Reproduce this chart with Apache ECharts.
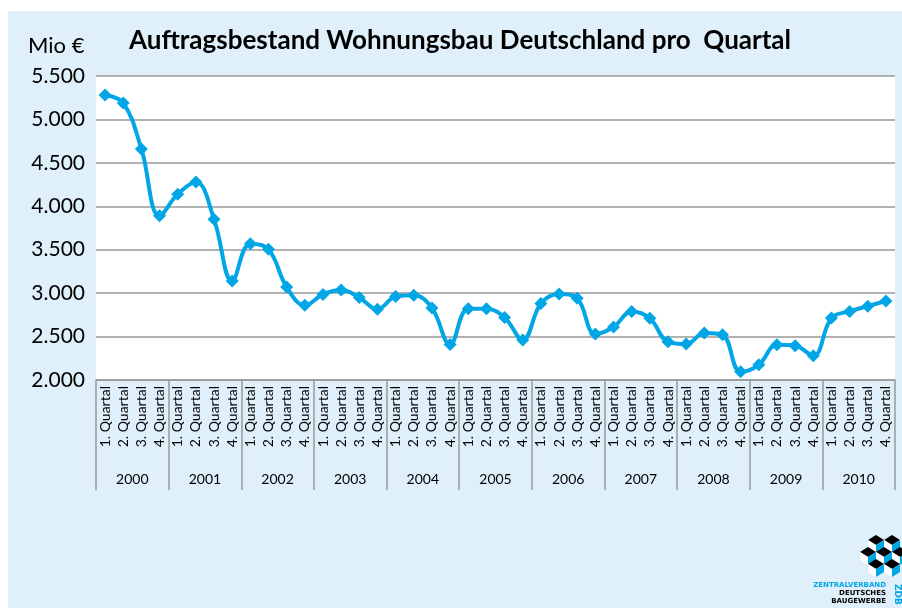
<!DOCTYPE html>
<html>
<head>
<meta charset="utf-8">
<script src="https://cdn.jsdelivr.net/npm/echarts@6/dist/echarts.min.js"></script>
<style>
  html, body { margin: 0; padding: 0; background: #fff; }
  #chart { width: 902px; height: 608px; }
</style>
</head>
<body>
<div id="chart"></div>
<script>
var myChart = echarts.init(document.getElementById('chart'));

// Jahre und Quartale
var years = ['2000','2001','2002','2003','2004','2005','2006','2007','2008','2009','2010'];
var quarterNames = ['1. Quartal','2. Quartal','3. Quartal','4. Quartal'];

// Auftragsbestand in Mio €, je Quartal
var values = [
  5280, 5190, 4660, 3890,   // 2000
  4140, 4280, 3850, 3140,   // 2001
  3570, 3505, 3070, 2860,   // 2002
  2985, 3035, 2950, 2815,   // 2003
  2960, 2975, 2830, 2410,   // 2004
  2820, 2820, 2720, 2460,   // 2005
  2880, 2990, 2940, 2530,   // 2006
  2610, 2790, 2710, 2440,   // 2007
  2415, 2540, 2520, 2095,   // 2008
  2175, 2405, 2395, 2280,   // 2009
  2715, 2790, 2850, 2910    // 2010
];

var yTicks = { min: 2000, max: 5500, step: 500 };

// Kategorien: 4 Quartale je Jahr
var quarters = [];
years.forEach(function () {
  quarterNames.forEach(function (q) { quarters.push(q); });
});

function fmt(v) {
  return String(v).replace(/\B(?=(\d{3})+(?!\d))/g, '.');
}

// ZDB Logo (Würfel)
function cube(cx, cy) {
  var w = 8, h = 5, d = 8;
  return [
    { type: 'polygon', shape: { points: [[cx, cy - h], [cx + w, cy], [cx, cy + h], [cx - w, cy]] }, style: { fill: '#000' } },
    { type: 'polygon', shape: { points: [[cx - w, cy], [cx, cy + h], [cx, cy + h + d], [cx - w, cy + d]] }, style: { fill: '#fff' } },
    { type: 'polygon', shape: { points: [[cx + w, cy], [cx, cy + h], [cx, cy + h + d], [cx + w, cy + d]] }, style: { fill: '#00a6e6' } }
  ];
}
var logo = [];
[[876, 540], [892, 540], [868, 552], [884, 552], [900, 552], [876, 564], [892, 564]].forEach(function (p) {
  logo = logo.concat(cube(p[0], p[1]));
});

var option = {
  backgroundColor: '#fff',
  animation: false,
  graphic: [
    { type: 'rect', z: -10, shape: { x: 8, y: 11, width: 894, height: 597 }, style: { fill: '#dff0fa' } },
    { type: 'text', left: 28, top: 35, style: { text: 'Mio €', font: '22px Lato', fill: '#000' } },
    { type: 'text', left: 129, top: 28, style: { text: 'Auftragsbestand Wohnungsbau Deutschland pro  Quartal', font: 'bold 26px Lato', fill: '#000' } },
    { type: 'text', right: 16, top: 582, style: { text: 'ZENTRALVERBAND', font: 'bold 7px "DejaVu Sans"', fill: '#00a6e6' } },
    { type: 'text', right: 16, top: 590, style: { text: 'DEUTSCHES', font: 'bold 7px "DejaVu Sans"', fill: '#000' } },
    { type: 'text', right: 16, top: 598, style: { text: 'BAUGEWERBE', font: 'bold 7px "DejaVu Sans"', fill: '#000' } },
    { type: 'text', x: 902, y: 584, rotation: -Math.PI / 2, style: { text: 'ZDB', font: 'bold 9px "DejaVu Sans"', fill: '#00a6e6' } }
  ].concat(logo),
  grid: {
    left: 96, top: 76, right: 7, bottom: 228,
    show: true, backgroundColor: '#fff', borderWidth: 0
  },
  xAxis: [{
    type: 'category',
    position: 'bottom',
    data: quarters,
    boundaryGap: true,
    axisLine: { lineStyle: { color: '#999', width: 1.5 } },
    axisTick: { show: false },
    axisLabel: { interval: 0, rotate: 90, fontSize: 14, fontFamily: 'Lato', color: '#000', margin: 6 }
  }, {
    type: 'category',
    position: 'bottom',
    data: years,
    boundaryGap: true,
    axisLine: { show: false },
    axisTick: { show: true, interval: 0, length: 110, lineStyle: { color: '#999', width: 1.5 } },
    axisLabel: { interval: 0, fontSize: 14, fontFamily: 'Lato', color: '#000', margin: 92 }
  }],
  yAxis: {
    type: 'value',
    min: yTicks.min,
    max: yTicks.max,
    interval: yTicks.step,
    axisLine: { show: false },
    axisTick: { show: false },
    splitLine: { lineStyle: { color: '#999', width: 1.5 } },
    axisLabel: { fontSize: 21, fontFamily: 'Lato', color: '#000', margin: 11, formatter: fmt }
  },
  series: [{
    name: 'Auftragsbestand',
    type: 'line',
    xAxisIndex: 0,
    data: values,
    smooth: 0.4,
    symbol: 'diamond',
    symbolSize: 13,
    lineStyle: { color: '#00a6e6', width: 4 },
    itemStyle: { color: '#00a6e6' }
  }]
};

myChart.setOption(option);

window.addEventListener('resize', function () {
  myChart.resize();
});
</script>
</body>
</html>
